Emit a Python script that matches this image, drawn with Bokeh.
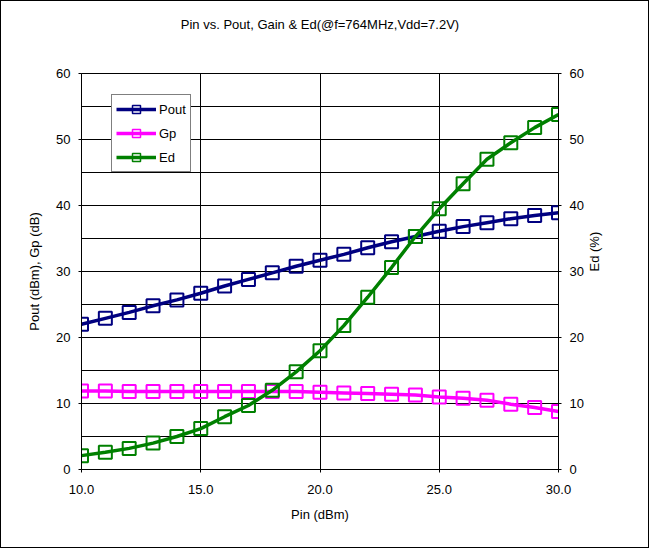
import math
from bokeh.plotting import figure
from bokeh.models import (Range1d, LinearAxis, Legend, LegendItem,
                          FixedTicker, ColumnDataSource, CustomJSTickFormatter)
from bokeh.embed import file_html
from bokeh.resources import INLINE

# ---- data ----
pin = [10, 11, 12, 13, 14, 15, 16, 17, 18, 19, 20, 21, 22, 23, 24, 25, 26, 27, 28, 29, 30]
pout = [22.0, 22.9, 23.8, 24.8, 25.7, 26.7, 27.8, 28.8, 29.8, 30.8, 31.7, 32.6,
        33.6, 34.5, 35.3, 36.1, 36.8, 37.4, 38.0, 38.5, 38.9]
gp = [11.9, 11.9, 11.8, 11.8, 11.8, 11.8, 11.8, 11.8, 11.8, 11.8, 11.7, 11.6,
      11.5, 11.4, 11.3, 11.0, 10.8, 10.5, 9.9, 9.4, 8.8]
ed = [2.1, 2.6, 3.2, 4.0, 5.0, 6.2, 8.0, 9.7, 12.0, 14.8, 18.0, 21.8,
      26.1, 30.6, 35.3, 39.5, 43.3, 47.0, 49.5, 51.8, 53.8]
series_names = ["Pout", "Gp", "Ed"]
series_colors = ["#000080", "#FF00FF", "#008000"]
x_ticks = [10, 15, 20, 25, 30]
y_ticks = [0, 10, 20, 30, 40, 50, 60]
grid_y = [0, 5, 10, 15, 20, 25, 30, 35, 40, 45, 50, 55, 60]
title_text = "Pin vs. Pout, Gain & Ed(@f=764MHz,Vdd=7.2V)"

FONT = "Liberation Sans"

p = figure(width=649, height=548, output_backend="svg", toolbar_location=None,
           x_range=Range1d(10, 30), y_range=Range1d(0, 60),
           min_border_left=80, min_border_right=92, min_border_top=72,
           min_border_bottom=80, y_axis_location=None, x_axis_location=None)
p.title = None
p.styles = {"border": "1px solid black", "box-sizing": "border-box"}
p.outline_line_color = "black"
p.outline_line_width = 1
p.background_fill_color = "white"
p.border_fill_color = "white"

# grids
p.xgrid.ticker = FixedTicker(ticks=x_ticks)
p.ygrid.ticker = FixedTicker(ticks=grid_y)
for g in (p.xgrid, p.ygrid):
    g.grid_line_color = "black"
    g.grid_line_width = 1

def style_axis(ax):
    ax.axis_line_color = "black"
    ax.major_tick_line_color = "black"
    ax.major_tick_out = 3
    ax.major_tick_in = 0
    ax.minor_tick_line_color = None
    ax.major_label_text_font = FONT
    ax.major_label_text_font_size = "13px"
    ax.major_label_text_color = "black"
    ax.axis_label_text_font = FONT
    ax.axis_label_text_font_size = "13px"
    ax.axis_label_text_font_style = "normal"
    ax.axis_label_text_color = "black"

# chart title drawn as the label of a bare axis above the frame
title_axis = LinearAxis(ticker=FixedTicker(ticks=[]), axis_label=title_text)
style_axis(title_axis)
title_axis.axis_line_color = None
title_axis.major_tick_line_color = None
title_axis.major_tick_out = 0
title_axis.major_label_text_font_size = "0px"
title_axis.major_label_standoff = 0
title_axis.axis_label_standoff = 42
p.add_layout(title_axis, "above")

xaxis = LinearAxis(ticker=FixedTicker(ticks=x_ticks), axis_label="Pin (dBm)",
                   formatter=CustomJSTickFormatter(code="return tick.toFixed(1);"))
style_axis(xaxis)
xaxis.major_label_standoff = 12
xaxis.axis_label_standoff = 10
p.add_layout(xaxis, "below")

yaxis = LinearAxis(ticker=FixedTicker(ticks=y_ticks), axis_label="Pout (dBm), Gp (dB)")
style_axis(yaxis)
yaxis.major_label_standoff = 8
yaxis.axis_label_standoff = 11
p.add_layout(yaxis, "left")

yaxis2 = LinearAxis(ticker=FixedTicker(ticks=y_ticks), axis_label="Ed (%)")
style_axis(yaxis2)
yaxis2.major_label_standoff = 8
yaxis2.axis_label_standoff = 8
yaxis2.axis_label_orientation = math.pi / 2
p.add_layout(yaxis2, "right")

# series
src = ColumnDataSource(dict(x=pin, Pout=pout, Gp=gp, Ed=ed))
items = []
for name, col in zip(series_names, series_colors):
    p.line("x", name, source=src, line_color=col, line_width=3.5)
    p.scatter("x", name, source=src, marker="square", size=13, line_color=col,
              line_width=2, fill_alpha=0)
    # legend-only glyphs (drawn off-range, so only their legend swatch shows)
    off = ColumnDataSource(dict(x=[-100, -99], y=[-100, -100]))
    lr = p.line("x", "y", source=off, line_color=col, line_width=3.5)
    sr = p.scatter("x", "y", source=off, marker="square", size=9, line_color=col,
                   line_width=1.5, fill_alpha=0)
    items.append(LegendItem(label=name, renderers=[lr, sr]))

legend = Legend(items=items, location=(30, 297), background_fill_color="white",
                background_fill_alpha=1, border_line_color="black", border_line_width=1,
                label_text_font=FONT, label_text_font_size="13px", label_text_color="black",
                glyph_width=40, glyph_height=20, label_height=20, spacing=4,
                padding=4, margin=0, label_standoff=3)
p.add_layout(legend, "center")

open("out.html", "w").write(file_html(p, INLINE))
